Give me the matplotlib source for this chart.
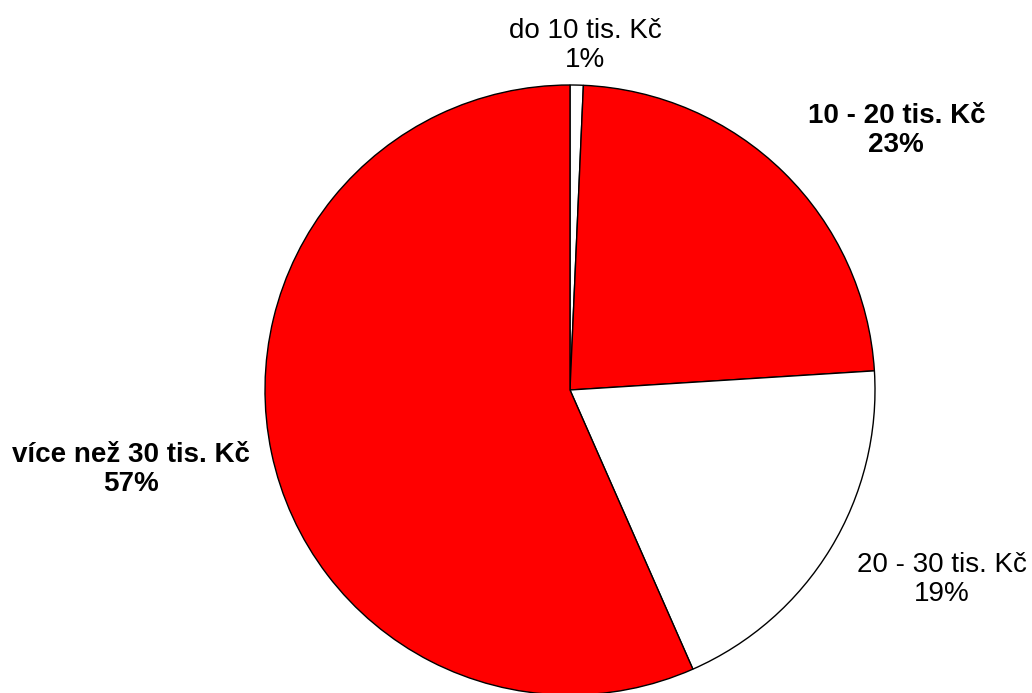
import matplotlib.pyplot as plt
import numpy as np

plt.rcParams['font.family'] = ['Liberation Sans', 'DejaVu Sans']

categories = ["do 10 tis. Kč", "10 - 20 tis. Kč", "20 - 30 tis. Kč", "více než 30 tis. Kč"]
values = [0.7, 23.3, 19.4, 56.6]
pct_labels = ["1%", "23%", "19%", "57%"]
colors = ["white", "#ff0000", "white", "#ff0000"]
bold = [False, True, False, True]

# label centres in pie-radius units (relative to pie centre)
label_pos = [(0.05, 1.13), (1.07, 0.85), (1.22, -0.62), (-1.44, -0.26)]

fig = plt.figure(figsize=(10.32, 6.93), dpi=100)
ax = fig.add_axes([0, 0, 1, 1])
ax.pie(values, colors=colors, startangle=90, counterclock=False,
       wedgeprops=dict(edgecolor="black", linewidth=1.0))

for cat, pct, b, (x, y) in zip(categories, pct_labels, bold, label_pos):
    ax.text(x, y, f"{cat}\n{pct}", ha="center", va="center", fontsize=20,
            fontweight="bold" if b else "normal", linespacing=1.15)

ax.set_aspect("equal")
ax.set_xlim(-570 / 305, (1032 - 570) / 305)
ax.set_ylim(-(693 - 390) / 305, 390 / 305)
ax.axis("off")

fig.savefig("out.png", dpi=100)
